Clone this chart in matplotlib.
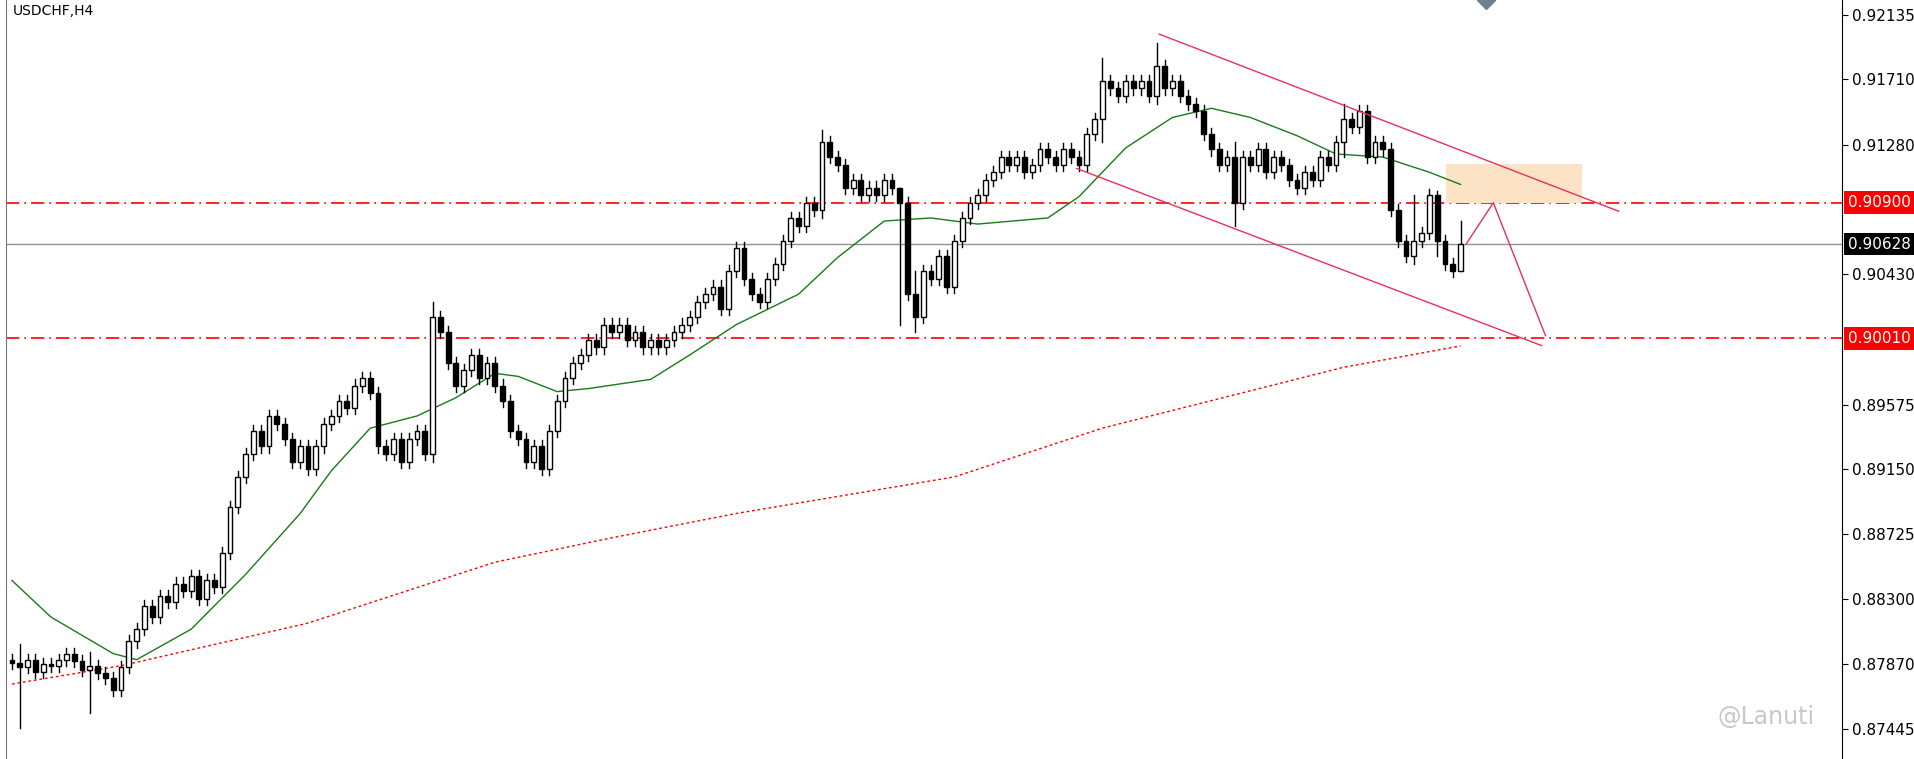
import numpy as np
import matplotlib.pyplot as plt
from matplotlib.patches import Rectangle

# ---------------- Data ----------------
CLOSES = [
    87880, 87850, 87900, 87820, 87870, 87860, 87900, 87940, 87890, 87830, 87860, 87810, 87780, 87700,
    87850, 88020, 88100, 88250, 88180, 88320, 88280,
    88400, 88350, 88450, 88300, 88420, 88380, 88600,
    88900, 89100, 89250,
    89400, 89300, 89500, 89450, 89350, 89200, 89300, 89150,
    89300, 89450, 89500, 89600, 89550, 89700, 89750, 89650,
    89300, 89250, 89350, 89200, 89350, 89400, 89250,
    90150,
    90050, 89850, 89700, 89800, 89900, 89750, 89850, 89700, 89600,
    89400, 89350, 89200, 89300, 89150,
    89400, 89600, 89750, 89850, 89900,
    90000, 89950, 90100, 90050, 90100, 90000, 90050, 89950, 90000, 89950, 90000, 90050, 90100, 90150,
    90250, 90300, 90350, 90200, 90450, 90600,
    90400, 90300, 90250, 90400, 90500, 90650,
    90800, 90750, 90900, 90850, 91300,
    91200, 91150, 91000, 91050, 90950, 91000, 90950, 91050, 91000, 90900,
    90300, 90150,
    90450, 90400, 90550, 90350, 90650,
    90800, 90900, 90950, 91050, 91100, 91200,
    91150, 91200, 91100, 91150, 91250, 91200, 91150, 91250, 91200, 91150,
    91350, 91450, 91700,
    91650, 91600, 91700, 91650, 91700, 91600, 91800,
    91650, 91700, 91600, 91550, 91500, 91350,
    91250, 91150, 91200, 90900,
    91200, 91150, 91250, 91100, 91200, 91150, 91050, 91000, 91100, 91050, 91200, 91150, 91300, 91450,
    91400, 91500, 91200, 91300, 91250, 90850,
    90650, 90550, 90650, 90700, 90950,
    90650, 90500, 90450, 90628,
]
FIRST_OPEN = 87900
# notable wicks: index -> (high, low)
SPIKES = {1: (88000, 87450), 10: (87950, 87550), 54: (90250, 89200), 104: (91380, 90800),
          114: (91000, 90100), 116: (90450, 90050), 147: (91950, 91550), 140: (91850, 91300),
          157: (91300, 90750), 171: (91550, 91200), 180: (90950, 90500), 183: (90980, 90550),
          186: (90780, 90450)}

MA20_IDX = [0, 5, 13, 16, 23, 30, 37, 41, 46, 52, 57, 62, 65, 70, 74, 82, 87, 93, 101, 106,
            112, 118, 124, 133, 137, 143, 149, 154, 159, 165, 170, 176, 182, 186]
MA20_VAL = [0.8842, 0.8818, 0.8794, 0.8790, 0.8810, 0.8846, 0.8886, 0.8914, 0.8942, 0.8950,
            0.8962, 0.8978, 0.8976, 0.8966, 0.8968, 0.8974, 0.8990, 0.9010, 0.9030, 0.9054,
            0.9078, 0.9080, 0.9076, 0.9080, 0.9094, 0.9126, 0.9146, 0.9152, 0.9146, 0.9134,
            0.9122, 0.9120, 0.9110, 0.9102]
MA200_IDX = [0, 14, 38, 62, 77, 93, 121, 140, 171, 186]
MA200_VAL = [0.8774, 0.8786, 0.8814, 0.8854, 0.8870, 0.8886, 0.8910, 0.8942, 0.8982, 0.8996]

LEVELS = [0.90900, 0.90010]
LAST_PRICE = 0.90628
YTICKS = [0.92135, 0.91710, 0.91280, 0.90430, 0.89575, 0.89150, 0.88725, 0.88300, 0.87870, 0.87445]
UPPER_CH = ([147.3, 206.3], [0.92007, 0.90844])
LOWER_CH = ([136.7, 196.4], [0.91125, 0.89962])
ZIGZAG = ([186.7, 190.2, 196.9], [0.90628, 0.90900, 0.90027])
ZONE = (184.1, 201.6, 0.90900, 0.91157)

RED = "#ff0000"
PINK = "#e8305a"


def main():
    closes = np.array(CLOSES) / 1e5
    opens = np.concatenate([[FIRST_OPEN / 1e5], closes[:-1]])

    fig = plt.figure(figsize=(19.15, 7.59), dpi=100)
    ax = fig.add_axes([0.003, 0.0, 0.959, 1.0])
    ax.set_xlim(-0.8, 235)
    ax.set_ylim(0.87248, 0.92231)

    w = 0.62
    for i, (o, c) in enumerate(zip(opens, closes)):
        hi, lo = max(o, c) + 0.0004, min(o, c) - 0.0004
        if i in SPIKES:
            hi, lo = SPIKES[i][0] / 1e5, SPIKES[i][1] / 1e5
        ax.plot([i, i], [lo, hi], color="black", lw=1, zorder=3)
        bull = c >= o
        ax.add_patch(Rectangle((i - w / 2, min(o, c)), w, max(abs(c - o), 0.00003),
                               facecolor="white" if bull else "black",
                               edgecolor="black", lw=1, zorder=4))

    ax.plot(MA20_IDX, MA20_VAL, color="#1a7a1a", lw=1, zorder=2)
    ax.plot(MA200_IDX, MA200_VAL, color=RED, lw=1, ls=(0, (2, 2)), zorder=2)

    for lv in LEVELS:
        ax.axhline(lv, color=RED, lw=1.2, ls=(0, (8, 3, 1, 3)), zorder=1)
    ax.axhline(LAST_PRICE, color="#8a9299", lw=1, zorder=1)

    x0, x1, y0, y1 = ZONE
    ax.add_patch(Rectangle((x0, y0), x1 - x0, y1 - y0, facecolor="#fde3c5", edgecolor="none", zorder=1))
    ax.plot(*UPPER_CH, color=PINK, lw=1, zorder=5)
    ax.plot(*LOWER_CH, color=PINK, lw=1, zorder=5)
    ax.plot(*ZIGZAG, color=PINK, lw=1, zorder=5)
    ax.plot([189.3], [0.92231], marker="D", color="#6e7f8f", ms=9, clip_on=True, zorder=6)

    ax.yaxis.tick_right()
    ax.set_yticks(YTICKS)
    ax.set_yticklabels([f"{t:.5f}" for t in YTICKS], fontsize=11)
    ax.tick_params(axis="y", length=4, pad=3)
    ax.set_xticks([])
    for s in ["top", "bottom"]:
        ax.spines[s].set_visible(False)
    ax.spines["left"].set_color("#777777")

    for val, bg in [(LEVELS[0], RED), (LEVELS[1], RED), (LAST_PRICE, "black")]:
        ax.text(1.003, val, f"{val:.5f}", transform=ax.get_yaxis_transform(), fontsize=11,
                color="white", va="center", ha="left",
                bbox=dict(boxstyle="square,pad=0.25", facecolor=bg, edgecolor="none"))

    ax.text(0.004, 0.995, "USDCHF,H4", transform=ax.transAxes, fontsize=10, va="top", ha="left")
    ax.text(0.985, 0.055, "@Lanuti", transform=ax.transAxes, fontsize=17, va="center",
            ha="right", color="#c8c8c8")

    fig.savefig("out.png", dpi=100)
    plt.close(fig)


if __name__ == "__main__":
    main()
